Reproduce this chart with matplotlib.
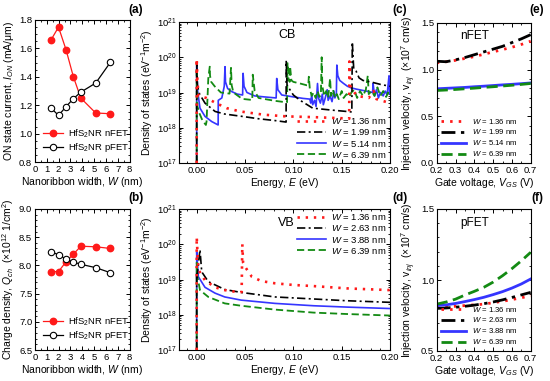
import matplotlib
matplotlib.use("Agg")
import matplotlib.pyplot as plt
from matplotlib.ticker import MultipleLocator, LogLocator, NullFormatter

plt.rcParams['font.family'] = ['Liberation Sans', 'DejaVu Sans']
plt.rcParams['mathtext.fontset'] = 'custom'
plt.rcParams['mathtext.rm'] = 'Liberation Sans'
plt.rcParams['mathtext.it'] = 'Liberation Sans:italic'
plt.rcParams['mathtext.bf'] = 'Liberation Sans:bold'

# ---------------- data ----------------
widths = [1.36, 1.99, 2.63, 3.25, 3.88, 5.14, 6.39]
ion_nfet = [1.66, 1.75, 1.59, 1.40, 1.25, 1.145, 1.14]
ion_pfet = [1.18, 1.128, 1.19, 1.246, 1.292, 1.356, 1.503]
qch_nfet = [7.89, 7.89, 8.065, 8.20, 8.34, 8.33, 8.30]
qch_pfet = [8.24, 8.19, 8.11, 8.06, 8.02, 7.96, 7.87]

# Conduction band DOS
cb_e_136 = [0.0, 0.0, 0.0008, 0.002, 0.01, 0.02, 0.031, 0.045, 0.069, 0.093, 0.121, 0.152, 0.1578,
            0.158, 0.159, 0.162, 0.166, 0.172, 0.178, 0.183, 0.186, 0.19, 0.195, 0.2]
cb_d_136 = [1e17, 9e19, 2e19, 8e18, 7e18, 5e18, 3.6e18, 2.9e18, 2.35e18, 2.1e18, 2.0e18, 1.85e18, 1.8e18,
            7.6e19, 1.5e19, 1.1e19, 8e18, 7.5e18, 7e18, 1.1e19, 6.5e18, 6e18, 5.5e18, 5e18]

cb_e_199 = [0.0, 0.0, 0.0008, 0.003, 0.0086, 0.019, 0.029, 0.047, 0.064, 0.081, 0.0925,
            0.0926, 0.0935, 0.1, 0.107, 0.12, 0.138, 0.155, 0.1605, 0.161, 0.1625, 0.165,
            0.168, 0.172, 0.18, 0.19, 0.2]
cb_d_199 = [1e17, 7e19, 1.5e19, 9e18, 5e18, 2.9e18, 2.45e18, 2.1e18, 1.8e18, 1.6e18, 1.45e18,
            8e19, 1.6e19, 8.5e18, 6e18, 3.6e18, 3.2e18, 2.9e18, 2.8e18, 2.7e20, 4.5e19, 4e19,
            2.6e19, 2.2e19, 2e19, 1.7e19, 1.5e19]

cb_e_514 = [0.0, 0.0, 0.001, 0.0034, 0.0086, 0.0155, 0.0222, 0.0223, 0.026, 0.0285, 0.0293, 0.0298,
            0.032, 0.036, 0.042, 0.0475, 0.048, 0.049, 0.052, 0.06, 0.07, 0.0822, 0.0828, 0.084,
            0.088, 0.1, 0.11, 0.117, 0.118, 0.119, 0.120, 0.122, 0.1235, 0.125, 0.126, 0.128,
            0.130, 0.131, 0.133, 0.135, 0.136, 0.138, 0.140, 0.142, 0.143, 0.1445, 0.145, 0.146,
            0.148, 0.152, 0.156, 0.160, 0.165, 0.175, 0.182, 0.1825, 0.184, 0.186, 0.188, 0.19,
            0.193, 0.195, 0.197, 0.199, 0.1995, 0.2]
cb_d_514 = [1e17, 5.5e19, 1.07e19, 3.6e18, 2.1e18, 1.5e18, 1.2e18, 6e18, 7e18, 1.5e19, 5.4e19, 2e19,
            1.3e19, 1.07e19, 9e18, 8.5e18, 3.5e19, 1.5e19, 1.0e19, 8e18, 7.5e18, 7e18, 2.5e19, 1.2e19,
            8.5e18, 7.5e18, 6.8e18, 6.5e18, 5e18, 9e18, 4.5e18, 6e18, 4e18, 1.8e19, 7e18, 5e18,
            9e18, 4.5e18, 7e18, 1.2e19, 6e18, 8e18, 5.5e18, 1.1e19, 7e18, 9e18, 6e19, 3e19,
            2.2e19, 1.8e19, 1.5e19, 1.35e19, 1.25e19, 1.1e19, 1e19, 1.8e19, 8e18, 1.2e19, 7e18, 1e19,
            8e18, 1.1e19, 8.5e18, 3e19, 1e19, 9e18]

cb_e_639 = [0.0, 0.0, 0.0008, 0.003, 0.006, 0.0095, 0.0102, 0.012, 0.0135, 0.0138, 0.015, 0.0186,
            0.025, 0.034, 0.0355, 0.0362, 0.038, 0.047, 0.056, 0.0575, 0.058, 0.06, 0.064, 0.081,
            0.092, 0.0935, 0.094, 0.095, 0.0962, 0.0966, 0.098, 0.1, 0.107, 0.114, 0.1155, 0.116,
            0.117, 0.119, 0.121, 0.123, 0.125, 0.127, 0.1285, 0.1293, 0.130, 0.132, 0.134, 0.136,
            0.138, 0.139, 0.141, 0.143, 0.145, 0.147, 0.15, 0.152, 0.155, 0.158, 0.16, 0.163,
            0.166, 0.169, 0.172, 0.175, 0.177, 0.178, 0.181, 0.184, 0.187, 0.19, 0.193, 0.196,
            0.198, 0.2]
cb_d_639 = [1e17, 5e19, 4e18, 2.5e18, 1.6e18, 1.2e18, 1.5e18, 2.5e19, 5.4e19, 3e19, 2e19, 1.5e19,
            1e19, 9.3e18, 5e19, 1.6e19, 1e19, 6.6e18, 6.2e18, 6.1e18, 3.2e19, 1.1e19, 7e18, 5.8e18,
            5.3e18, 5.3e18, 6.8e19, 2.5e19, 2e19, 5.5e19, 2.2e19, 2e19, 1.8e19, 1.6e19, 1.6e19, 2.8e19,
            1.3e19, 8e18, 1e19, 7e18, 1.1e19, 7.5e18, 9e18, 1e20, 1.5e19, 8e18, 1.1e19, 7e18,
            2.5e19, 8e18, 1.2e19, 7e18, 9e18, 6.5e18, 1.1e19, 7e18, 9e18, 7.5e18, 1e19, 1.2e19,
            7e18, 1.1e19, 8e18, 1.2e19, 3e19, 9e18, 1.1e19, 8e18, 1.4e19, 8e18, 1.1e19, 7.5e18,
            1e19, 8e18]

# Valence band DOS
vb_e_136 = [0.0, 0.0, 0.0017, 0.0086, 0.019, 0.029, 0.0397, 0.0465, 0.0472, 0.048, 0.05, 0.057,
            0.067, 0.081, 0.1, 0.121, 0.155, 0.2]
vb_d_136 = [1e17, 1.6e20, 1.9e19, 9.5e18, 6e18, 5e18, 4.5e18, 4.4e18, 1e20, 3e19, 2.3e19, 1.2e19,
            9e18, 7.8e18, 7e18, 6.5e18, 5.6e18, 5e18]
vb_e_263 = [0.0, 0.0, 0.0, 0.0034, 0.0052, 0.012, 0.029, 0.046, 0.081, 0.121, 0.155, 0.2]
vb_d_263 = [1e17, 1.5e19, 1e19, 7e19, 1.65e19, 8.7e18, 5.2e18, 4.3e18, 3.2e18, 2.8e18, 2.5e18, 2.25e18]
vb_e_388 = [0.0, 0.0, 0.0017, 0.0086, 0.019, 0.029, 0.046, 0.081, 0.121, 0.155, 0.2]
vb_d_388 = [1e17, 6e19, 1.2e19, 6e18, 4.1e18, 3.2e18, 2.6e18, 2.1e18, 1.8e18, 1.65e18, 1.5e18]
vb_e_639 = [0.0, 0.0, 0.0008, 0.0034, 0.012, 0.029, 0.046, 0.081, 0.121, 0.155, 0.2]
vb_d_639 = [1e17, 3e19, 1.2e19, 5e18, 3.2e18, 2.1e18, 1.8e18, 1.4e18, 1.15e18, 1.05e18, 0.95e18]

# Injection velocity
vgs = [0.2, 0.25, 0.3, 0.35, 0.4, 0.45, 0.5, 0.55, 0.6, 0.65, 0.7]
vinj_n_136 = [1.073, 1.085, 1.10, 1.12, 1.14, 1.165, 1.19, 1.215, 1.24, 1.27, 1.305]
vinj_n_199 = [1.09, 1.085, 1.105, 1.13, 1.16, 1.19, 1.22, 1.25, 1.29, 1.33, 1.375]
vinj_n_514 = [0.795, 0.80, 0.805, 0.81, 0.817, 0.823, 0.83, 0.837, 0.843, 0.85, 0.858]
vinj_n_639 = [0.777, 0.782, 0.788, 0.795, 0.802, 0.81, 0.817, 0.825, 0.833, 0.842, 0.852]
vinj_p_136 = [0.807, 0.81, 0.815, 0.82, 0.825, 0.83, 0.84, 0.85, 0.862, 0.875, 0.889]
vinj_p_263 = [0.80, 0.803, 0.808, 0.815, 0.823, 0.833, 0.845, 0.86, 0.877, 0.895, 0.913]
vinj_p_388 = [0.82, 0.825, 0.835, 0.848, 0.862, 0.878, 0.897, 0.918, 0.943, 0.972, 1.007]
vinj_p_639 = [0.83, 0.845, 0.865, 0.894, 0.92, 0.948, 0.985, 1.03, 1.08, 1.135, 1.195]

# ---------------- styles ----------------
RED = '#ff1a1a'
BLK = '#000000'
BLU = '#3535ff'
GRN = '#138a13'
dot = (0, (0.9, 2.2))
dashdot = (0, (5, 2, 1.2, 2))
dash = (0, (4, 2))

TICK = 6.8
LAB = 7.5

fig = plt.figure(figsize=(5.5, 3.81), dpi=100)

def pos(x0, y0, x1, y1):
    W, H = 550.0, 381.0
    return [x0 / W, 1 - y1 / H, (x1 - x0) / W, (y1 - y0) / H]

def style(ax):
    ax.tick_params(which='both', direction='in', top=True, right=True, labelsize=TICK, pad=2)
    ax.tick_params(which='major', length=3, width=0.7)
    ax.tick_params(which='minor', length=1.6, width=0.6)
    for s in ax.spines.values():
        s.set_linewidth(0.8)

# Panel (a)
axa = fig.add_axes(pos(35, 20, 129.5, 162))
axa.plot(widths, ion_nfet, '-o', color=RED, ms=4.6, lw=0.9, mfc=RED, mec=RED, label='HfS$_2$NR nFET')
axa.plot(widths, ion_pfet, '-o', color=BLK, ms=4.6, lw=0.9, mfc='white', mec=BLK, mew=0.8, label='HfS$_2$NR pFET')
axa.set_xlim(0, 8); axa.set_ylim(0.8, 1.8)
axa.xaxis.set_major_locator(MultipleLocator(1)); axa.xaxis.set_minor_locator(MultipleLocator(0.5))
axa.yaxis.set_major_locator(MultipleLocator(0.2)); axa.yaxis.set_minor_locator(MultipleLocator(0.05))
axa.yaxis.set_major_formatter(plt.FormatStrFormatter('%.1f'))
axa.set_xlabel('Nanoribbon width, $W$ (nm)', fontsize=LAB, labelpad=1)
axa.set_ylabel('ON state current, $I_{ON}$ (mA/μm)', fontsize=LAB, labelpad=2)
axa.legend(loc='lower left', fontsize=6.8, frameon=False, handlelength=2.2, borderpad=0.3,
           labelspacing=0.2, handletextpad=0.5)
style(axa)

# Panel (b)
axb = fig.add_axes(pos(35, 209, 129.5, 350))
axb.plot(widths, qch_nfet, '-o', color=RED, ms=4.6, lw=0.9, mfc=RED, mec=RED, label='HfS$_2$NR nFET')
axb.plot(widths, qch_pfet, '-o', color=BLK, ms=4.6, lw=0.9, mfc='white', mec=BLK, mew=0.8, label='HfS$_2$NR pFET')
axb.set_xlim(0, 8); axb.set_ylim(6.5, 9.0)
axb.xaxis.set_major_locator(MultipleLocator(1)); axb.xaxis.set_minor_locator(MultipleLocator(0.5))
axb.yaxis.set_major_locator(MultipleLocator(0.5)); axb.yaxis.set_minor_locator(MultipleLocator(0.1))
axb.yaxis.set_major_formatter(plt.FormatStrFormatter('%.1f'))
axb.set_xlabel('Nanoribbon width, $W$ (nm)', fontsize=LAB, labelpad=1)
axb.set_ylabel('Charge density, $Q_{ch}$  (×10$^{12}$ 1/cm$^2$)', fontsize=LAB, labelpad=2)
axb.legend(loc='lower left', fontsize=6.8, frameon=False, handlelength=2.2, borderpad=0.3,
           labelspacing=0.2, handletextpad=0.5)
style(axb)

def dos_axes(ax):
    ax.set_yscale('log')
    ax.set_xlim(-0.018, 0.2); ax.set_ylim(1e17, 1e21)
    ax.xaxis.set_major_locator(MultipleLocator(0.05)); ax.xaxis.set_minor_locator(MultipleLocator(0.01))
    ax.xaxis.set_major_formatter(plt.FormatStrFormatter('%.2f'))
    ax.yaxis.set_major_locator(LogLocator(base=10, numticks=10))
    ax.yaxis.set_minor_locator(LogLocator(base=10, subs=range(2, 10), numticks=20))
    ax.yaxis.set_minor_formatter(NullFormatter())
    ax.set_xlabel('Energy, $E$ (eV)', fontsize=LAB, labelpad=1)
    ax.set_ylabel('Density of states (eV$^{-1}$m$^{-2}$)', fontsize=LAB, labelpad=1)
    style(ax)

# Panel CB
axc = fig.add_axes(pos(179.3, 22, 390, 163))
axc.plot(cb_e_514, cb_d_514, color=BLU, lw=1.2, label='$W$ = 5.14 nm', zorder=3)
axc.plot(cb_e_639, cb_d_639, color=GRN, lw=1.3, ls=dash, label='$W$ = 6.39 nm', zorder=4)
axc.plot(cb_e_199, cb_d_199, color=BLK, lw=1.2, ls=dashdot, label='$W$ = 1.99 nm', zorder=5)
axc.plot(cb_e_136, cb_d_136, color=RED, lw=1.9, ls=dot, label='$W$ = 1.36 nm', zorder=6)
h, l = axc.get_legend_handles_labels()
order = [3, 2, 0, 1]
axc.legend([h[i] for i in order], [l[i] for i in order], loc='lower right', fontsize=6.8,
           frameon=False, handlelength=3.0, borderpad=0.15, labelspacing=0.12, handletextpad=0.6,
           borderaxespad=0.2)
axc.text(0.51, 0.91, 'CB', transform=axc.transAxes, fontsize=9, ha='center', va='center')
dos_axes(axc)

# Panel VB
axd = fig.add_axes(pos(179.3, 209, 390, 350))
axd.plot(vb_e_136, vb_d_136, color=RED, lw=1.9, ls=dot, label='$W$ = 1.36 nm', zorder=6)
axd.plot(vb_e_263, vb_d_263, color=BLK, lw=1.2, ls=dashdot, label='$W$ = 2.63 nm', zorder=5)
axd.plot(vb_e_388, vb_d_388, color=BLU, lw=1.2, label='$W$ = 3.88 nm', zorder=3)
axd.plot(vb_e_639, vb_d_639, color=GRN, lw=1.3, ls=dash, label='$W$ = 6.39 nm', zorder=4)
axd.legend(loc='upper right', fontsize=6.8, frameon=False, handlelength=3.0, borderpad=0.15,
           labelspacing=0.12, handletextpad=0.6, borderaxespad=0.2)
axd.text(0.51, 0.90, 'VB', transform=axd.transAxes, fontsize=9, ha='center', va='center')
dos_axes(axd)

def vinj_axes(ax, ylo):
    ax.set_xlim(0.2, 0.7); ax.set_ylim(ylo, 1.5)
    ax.xaxis.set_major_locator(MultipleLocator(0.1)); ax.xaxis.set_minor_locator(MultipleLocator(0.05))
    ax.yaxis.set_major_locator(MultipleLocator(0.5)); ax.yaxis.set_minor_locator(MultipleLocator(0.1))
    ax.xaxis.set_major_formatter(plt.FormatStrFormatter('%.1f'))
    ax.yaxis.set_major_formatter(plt.FormatStrFormatter('%.1f'))
    ax.set_xlabel('Gate voltage, $V_{GS}$ (V)', fontsize=LAB, labelpad=1)
    ax.set_ylabel('Injection velocity, v$_{inj}$  (×10$^7$ cm/s)', fontsize=LAB, labelpad=2)
    style(ax)

# Panel (e)
axe = fig.add_axes(pos(436.7, 23, 530.7, 163))
axe.plot(vgs, vinj_n_136, color=RED, lw=2.0, ls=dot, label='$W$ = 1.36 nm')
axe.plot(vgs, vinj_n_199, color=BLK, lw=2.0, ls=dashdot, label='$W$ = 1.99 nm')
axe.plot(vgs, vinj_n_514, color=BLU, lw=2.0, label='$W$ = 5.14 nm')
axe.plot(vgs, vinj_n_639, color=GRN, lw=2.0, ls=dash, label='$W$ = 6.39 nm')
axe.legend(loc='lower left', fontsize=5.6, frameon=False, handlelength=3.2, borderpad=0.2,
           labelspacing=0.25, handletextpad=0.8, borderaxespad=0.4)
axe.text(0.40, 0.91, 'nFET', transform=axe.transAxes, fontsize=8.5, ha='center', va='center')
vinj_axes(axe, 0.0)

# Panel (f)
axf = fig.add_axes(pos(436.7, 209, 530.7, 351))
axf.plot(vgs, vinj_p_136, color=RED, lw=2.0, ls=dot, label='$W$ = 1.36 nm')
axf.plot(vgs, vinj_p_263, color=BLK, lw=2.0, ls=dashdot, label='$W$ = 2.63 nm')
axf.plot(vgs, vinj_p_388, color=BLU, lw=2.0, label='$W$ = 3.88 nm')
axf.plot(vgs, vinj_p_639, color=GRN, lw=2.0, ls=dash, label='$W$ = 6.39 nm')
axf.legend(loc='lower left', fontsize=5.6, frameon=False, handlelength=3.2, borderpad=0.2,
           labelspacing=0.25, handletextpad=0.8, borderaxespad=0.4)
axf.text(0.40, 0.90, 'pFET', transform=axf.transAxes, fontsize=8.5, ha='center', va='center')
vinj_axes(axf, 0.5)

# panel labels
for x, y, t in [(136, 10, '(a)'), (136, 198, '(b)'), (400, 10, '(c)'), (400, 198, '(d)'),
                (537, 10, '(e)'), (537, 198, '(f)')]:
    fig.text(x / 550, 1 - y / 381, t, fontsize=8.5, fontweight='bold', ha='center', va='center')

fig.savefig('out.png', dpi=100)
